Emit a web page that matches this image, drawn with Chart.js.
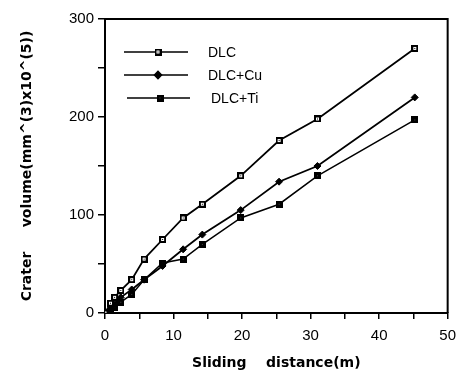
<!DOCTYPE html>
<html>
<head>
<meta charset="utf-8">
<script src="https://cdn.jsdelivr.net/npm/chart.js@4/dist/chart.umd.min.js"></script>
<style>
  html, body { margin: 0; padding: 0; background: #fff; }
  #wrap { width: 464px; height: 372px; }
</style>
</head>
<body>
<div id="wrap"><canvas id="chart" width="464" height="372"></canvas></div>
<script>
'use strict';

// values
let distance = [0, 0.8, 1.4, 2.3, 3.9, 5.7, 8.4, 11.4, 14.2, 19.8, 25.4, 31, 45.2];
let dlcVolume = [0, 10, 16, 23, 34, 55, 75, 97, 111, 140, 176, 198, 270];
let cuVolume = [0, 4, 9, 16, 24, 34, 48, 65, 80, 105, 134, 150, 220];
let tiVolume = [0, 2, 6, 11, 19, 34, 51, 55, 70, 97, 111, 140, 197];
let seriesNames = ['DLC', 'DLC+Cu', 'DLC+Ti'];
let xTicks = [0, 10, 20, 30, 40, 50];
let yTicks = [0, 100, 200, 300];

let font = 'Arial, "Liberation Sans", Helvetica, sans-serif';
let titleFont = '"DejaVu Sans", Verdana, sans-serif';

function toPoints(ys) {
  return distance.map((d, i) => ({ x: d, y: ys[i] }));
}

// 7px square marker, open with a dot or filled
function squareIcon(filled) {
  let c = document.createElement('canvas');
  c.width = 7;
  c.height = 7;
  let g = c.getContext('2d');
  g.fillStyle = '#000';
  g.fillRect(0, 0, 7, 7);
  if (filled) {
    g.fillStyle = '#444';
    g.fillRect(3, 3, 1, 1);
  } else {
    g.fillStyle = '#fff';
    g.fillRect(2, 2, 3, 3);
    g.fillStyle = '#000';
    g.fillRect(3, 3, 1, 1);
  }
  return c;
}

let dlcIcon = squareIcon(false);
let tiIcon = squareIcon(true);

// legend drawn inside the plot like the original
let insideLegend = {
  id: 'insideLegend',
  afterDatasetsDraw(chart) {
    let ctx = chart.ctx;
    let rows = [
      { y: 52, x0: 124, x1: 188, mx: 158, tx: 208 },
      { y: 75, x0: 124, x1: 188, mx: 158, tx: 208 },
      { y: 98, x0: 127, x1: 190, mx: 160, tx: 211 }
    ];
    ctx.save();
    rows.forEach((r, i) => {
      let ds = chart.data.datasets[i];
      ctx.strokeStyle = '#000';
      ctx.lineWidth = 1.6;
      ctx.beginPath();
      ctx.moveTo(r.x0, r.y);
      ctx.lineTo(r.x1, r.y);
      ctx.stroke();
      ctx.fillStyle = '#000';
      Chart.helpers.drawPoint(ctx, {
        pointStyle: ds.pointStyle,
        radius: ds.pointRadius,
        rotation: 0,
        borderWidth: 1
      }, r.mx, r.y);
      ctx.fillStyle = '#000';
      ctx.font = '14px ' + font;
      ctx.textBaseline = 'middle';
      ctx.textAlign = 'left';
      ctx.fillText(seriesNames[i], r.tx, r.y + 1);
    });
    ctx.restore();
  }
};

// top and right frame
let frame = {
  id: 'frame',
  beforeDatasetsDraw(chart) {
    let a = chart.chartArea;
    let ctx = chart.ctx;
    ctx.save();
    ctx.strokeStyle = '#000';
    ctx.lineWidth = 2;
    ctx.beginPath();
    ctx.moveTo(a.left, a.top);
    ctx.lineTo(a.right, a.top);
    ctx.lineTo(a.right, a.bottom);
    ctx.stroke();
    ctx.restore();
  }
};

let ctx = document.getElementById('chart').getContext('2d');

let chartObject = new Chart(ctx, {
  type: 'scatter',
  data: {
    datasets: [
      {
        label: seriesNames[0],
        data: toPoints(dlcVolume),
        showLine: true,
        borderColor: '#000',
        backgroundColor: '#000',
        borderWidth: 1.8,
        pointStyle: dlcIcon,
        pointRadius: 3.5
      },
      {
        label: seriesNames[1],
        data: toPoints(cuVolume),
        showLine: true,
        borderColor: '#000',
        backgroundColor: '#000',
        borderWidth: 1.8,
        pointStyle: 'rectRot',
        pointRadius: 3.5,
        pointBorderWidth: 1
      },
      {
        label: seriesNames[2],
        data: toPoints(tiVolume),
        showLine: true,
        borderColor: '#000',
        backgroundColor: '#000',
        borderWidth: 1.5,
        pointStyle: tiIcon,
        pointRadius: 3.5
      }
    ]
  },
  options: {
    responsive: false,
    animation: false,
    layout: { padding: { top: 19, right: 11, left: 0, bottom: 0 } },
    plugins: {
      legend: { display: false },
      tooltip: { enabled: false }
    },
    scales: {
      x: {
        type: 'linear',
        min: xTicks[0],
        max: xTicks[xTicks.length - 1],
        afterFit(scale) { scale.height = 59; },
        border: { color: '#000', width: 2 },
        grid: { drawOnChartArea: false, color: '#000', tickLength: 6, lineWidth: 1.5 },
        ticks: {
          stepSize: 5,
          color: '#000',
          font: { family: font, size: 15 },
          padding: 8,
          maxRotation: 0,
          callback: (v) => xTicks.includes(v) ? String(v) : ''
        },
        title: {
          display: true,
          text: 'Sliding    distance(m)',
          color: '#000',
          font: { family: titleFont, size: 14, weight: 'bold' },
          padding: { top: 9, bottom: 0 }
        }
      },
      y: {
        min: yTicks[0],
        max: yTicks[yTicks.length - 1],
        afterFit(scale) { scale.width = 105; },
        border: { color: '#000', width: 2 },
        grid: { drawOnChartArea: false, color: '#000', tickLength: 7, lineWidth: 1.5 },
        ticks: {
          stepSize: 50,
          color: '#000',
          font: { family: font, size: 15 },
          padding: 4,
          callback: (v) => yTicks.includes(v) ? String(v) : ''
        },
        title: {
          display: true,
          text: 'Crater     volume(mm^(3)x10^(5))',
          color: '#000',
          font: { family: titleFont, size: 14, weight: 'bold' },
          padding: { top: 19, bottom: 0 }
        }
      }
    }
  },
  plugins: [frame, insideLegend]
});
</script>
</body>
</html>
